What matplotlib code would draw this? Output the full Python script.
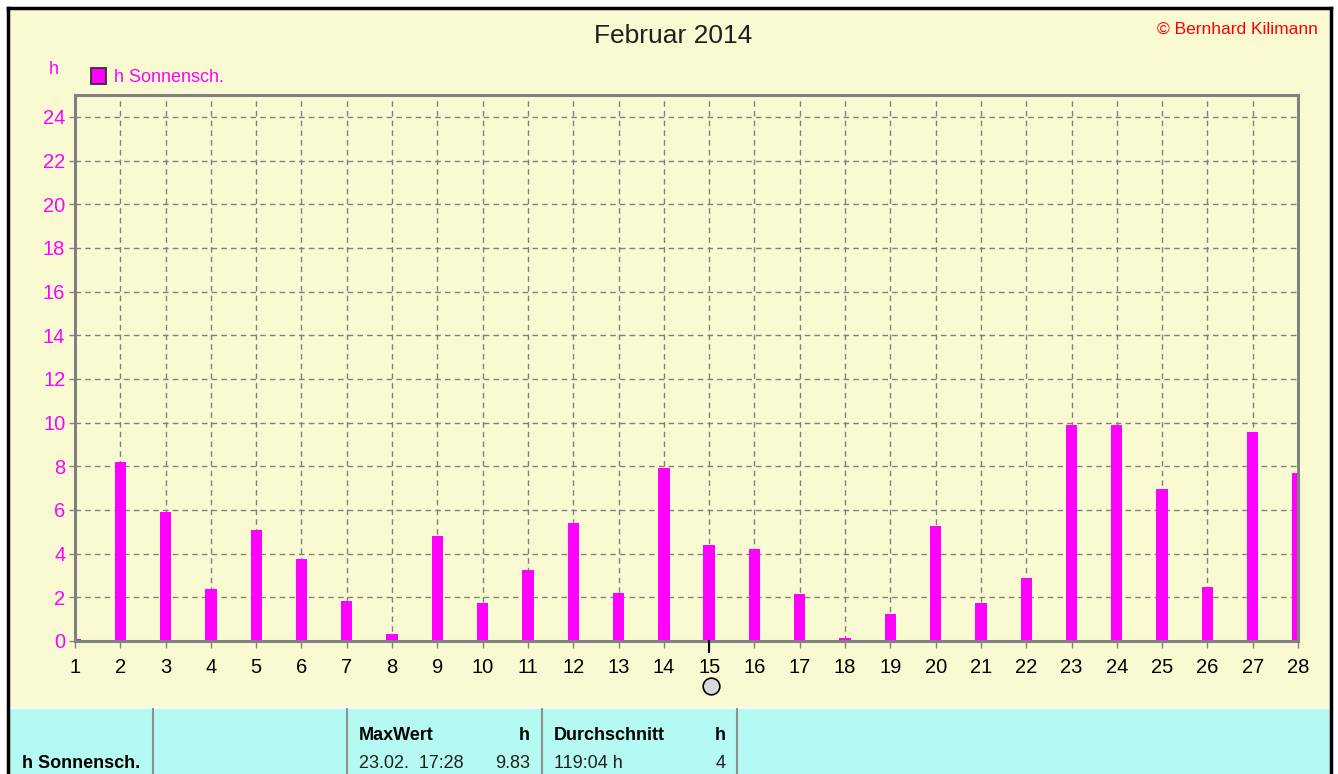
import matplotlib
matplotlib.use("Agg")
import matplotlib.pyplot as plt
from matplotlib.patches import Rectangle
from matplotlib.lines import Line2D

plt.rcParams['font.family'] = ['Liberation Sans', 'DejaVu Sans']

# ---- data ----
days = list(range(1, 29))
sunshine = [0.1, 8.2, 5.9, 2.4, 5.1, 3.75, 1.85, 0.3, 4.8, 1.75, 3.25, 5.4, 2.2, 7.9,
            4.4, 4.2, 2.15, 0.12, 1.25, 5.25, 1.75, 2.9, 9.9, 9.9, 6.95, 2.45, 9.55, 7.7]
yticks = list(range(0, 25, 2))
title = "Februar 2014"
series_name = "h Sonnensch."
copyright_text = "\u00a9 Bernhard Kilimann"
table_header = ["MaxWert", "h", "Durchschnitt", "h"]
table_row = ["23.02.  17:28", "9.83", "119:04 h", "4"]

W, H = 1338, 774
MAGENTA = '#FF00FF'
YELLOW = '#FAFAD2'
CYAN = '#B4FAF2'
GRAY = '#808080'

fig = plt.figure(figsize=(W / 100, H / 100), dpi=100)
fig.patch.set_facecolor('white')

def fx(px):
    return px / W

def fy(py):
    return 1 - py / H

# background panels
fig.add_artist(Rectangle((fx(8), fy(707)), fx(1322), fy(8) - fy(707),
                         transform=fig.transFigure, facecolor=YELLOW, edgecolor='none', zorder=0))
fig.add_artist(Rectangle((fx(8), 0), fx(1322), fy(709),
                         transform=fig.transFigure, facecolor=CYAN, edgecolor='none', zorder=0))
# black outer border
fig.add_artist(Line2D([fx(8), fx(8)], [0, fy(8)], transform=fig.transFigure, color='black', lw=2.5))
fig.add_artist(Line2D([fx(1331), fx(1331)], [0, fy(8)], transform=fig.transFigure, color='black', lw=2.5))
fig.add_artist(Line2D([fx(8), fx(1331)], [fy(8), fy(8)], transform=fig.transFigure, color='black', lw=2.5))

# axes
ax = fig.add_axes([fx(75), fy(641), fx(1298) - fx(75), fy(95) - fy(641)])
ax.set_facecolor(YELLOW)
ax.bar(days, sunshine, width=0.25, color=MAGENTA, zorder=3)
ax.set_xlim(1, 28)
ax.set_ylim(0, 25)
ax.set_xticks(days)
ax.set_yticks(yticks)
ax.tick_params(axis='y', colors=GRAY, labelcolor=MAGENTA, labelsize=14.5, length=4, width=1, pad=3)
ax.tick_params(axis='x', colors=GRAY, labelcolor='black', labelsize=14.5, length=5, width=1, pad=7)
ax.grid(True, color=GRAY, linestyle=(0, (4, 3)), linewidth=1.0, zorder=1)
ax.set_axisbelow(True)
for s in ax.spines.values():
    s.set_color(GRAY)
    s.set_linewidth(2.2)
    s.set_zorder(4)

# cursor tick at 15
ax.plot([15, 15], [0, -0.5], color='black', lw=1.5, clip_on=False, zorder=5)
fig.add_artist(Line2D([fx(711)], [fy(686)], transform=fig.transFigure, marker='o',
                      markersize=12, markerfacecolor='#D8D8D8', markeredgecolor='black',
                      markeredgewidth=1.2, linestyle='none'))

# texts
fig.text(fx(673), fy(36), title, ha='center', va='center', fontsize=19, color='#202020')
fig.text(fx(1318), fy(29), copyright_text, ha='right', va='center', fontsize=12.5, color='#FF0000')
fig.text(fx(54), fy(70), "h", ha='center', va='center', fontsize=13, color=MAGENTA)
fig.add_artist(Rectangle((fx(91), fy(84)), fx(15), fy(68) - fy(84), transform=fig.transFigure,
                         facecolor=MAGENTA, edgecolor='#303030', lw=1.3))
fig.text(fx(114), fy(77), series_name, ha='left', va='center', fontsize=13, color=MAGENTA)

# bottom table
for xp in [153, 347, 542, 737]:
    fig.add_artist(Line2D([fx(xp), fx(xp)], [0, fy(709)], transform=fig.transFigure,
                          color='#909090', lw=1.5))
fig.text(fx(22), fy(764), series_name, ha='left', va='center', fontsize=13,
         fontweight='bold', color='black')
fig.text(fx(359), fy(735), table_header[0], ha='left', va='center', fontsize=13,
         fontweight='bold', color='black')
fig.text(fx(530), fy(735), table_header[1], ha='right', va='center', fontsize=13,
         fontweight='bold', color='black')
fig.text(fx(554), fy(735), table_header[2], ha='left', va='center', fontsize=13,
         fontweight='bold', color='black')
fig.text(fx(726), fy(735), table_header[3], ha='right', va='center', fontsize=13,
         fontweight='bold', color='black')
fig.text(fx(359), fy(763), table_row[0], ha='left', va='center', fontsize=13, color='#202020')
fig.text(fx(530), fy(763), table_row[1], ha='right', va='center', fontsize=13, color='#202020')
fig.text(fx(554), fy(763), table_row[2], ha='left', va='center', fontsize=13, color='#202020')
fig.text(fx(726), fy(763), table_row[3], ha='right', va='center', fontsize=13, color='#202020')

fig.savefig('out.png', dpi=100, facecolor=fig.get_facecolor())
